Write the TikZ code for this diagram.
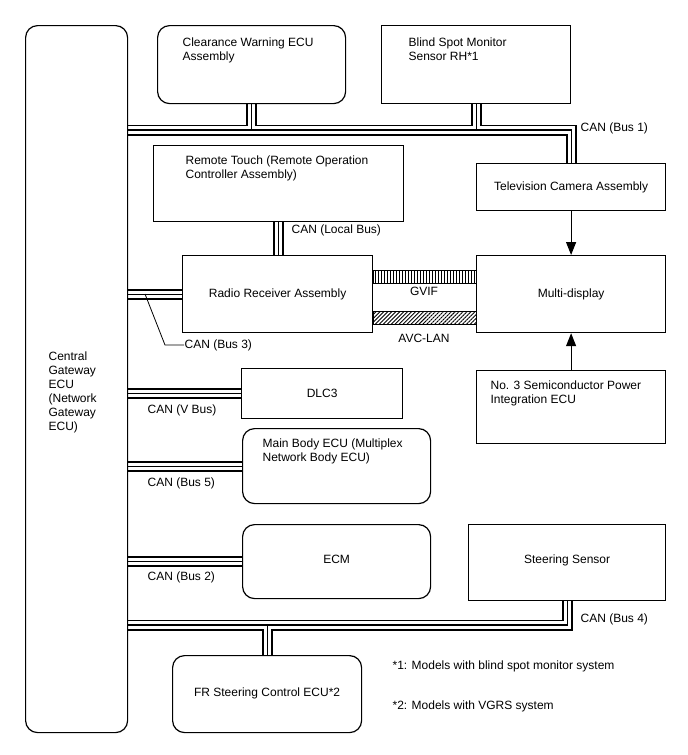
\documentclass[tikz,border=0pt]{standalone}
\usepackage{fontspec}
\setmainfont{Liberation Sans}
\usetikzlibrary{arrows.meta, positioning, backgrounds, patterns.meta}
\tikzset{
  every picture/.style={font=\fontsize{12}{14}\selectfont, line width=1.2pt},
  ecu/.style={draw, rounded corners=12pt, inner sep=0pt, anchor=north west},
  unitbox/.style={draw, inner sep=0pt, anchor=north west},
  txt/.style={align=left, anchor=north west, inner sep=0pt},
  lbl/.style={anchor=west, inner sep=0pt},
  sig/.style={-{Triangle[length=13pt, width=10pt]}},
}
% CAN wire: outer pair of lines with a centre line
\newcommand\canwire[1]{%
  \draw[line width=11pt] #1;
  \draw[white, line width=7.2pt] #1;
  \draw[line width=1.1pt] #1;}
\begin{document}
\begin{tikzpicture}[x=1pt, y=-1pt]
  \useasboundingbox (0,0) rectangle (688,755);
  % gateway
  \node[ecu, minimum width=102pt, minimum height=707pt] (cgw) at (25,25) {};
  \node[txt, below right=326pt and 23pt of cgw.north west] {Central\\Gateway\\ECU\\(Network\\Gateway\\ECU)};
  % top row
  \node[ecu, minimum width=188pt, minimum height=78pt] (cwe) at (157,25) {};
  \node[txt, below right=12pt and 25pt of cwe.north west] {Clearance Warning ECU\\Assembly};
  \node[unitbox, minimum width=189pt, minimum height=78pt] (bsm) at (381,25) {};
  \node[txt, below right=12pt and 27pt of bsm.north west] {Blind Spot Monitor\\Sensor RH*1};
  \node[unitbox, minimum width=189pt, minimum height=47pt] (tv) at (476,163) {Television Camera Assembly};
  % audio / display
  \node[unitbox, minimum width=250pt, minimum height=76pt] (rt) at (153,145) {};
  \node[txt, below right=10pt and 32pt of rt.north west] {Remote Touch (Remote Operation\\Controller Assembly)};
  \node[unitbox, minimum width=190pt, minimum height=77pt] (rr) at (182,255) {Radio Receiver Assembly};
  \node[unitbox, minimum width=189pt, minimum height=77pt] (md) at (476,255) {Multi-display};
  \node[unitbox, minimum width=189pt, minimum height=73pt] (sc) at (476,370) {};
  \node[txt, below right=10pt and 14pt of sc.north west] {No. 3 Semiconductor Power\\Integration ECU};
  % body side
  \node[unitbox, minimum width=161pt, minimum height=50pt] (dlc) at (241,368) {DLC3};
  \node[ecu, minimum width=188pt, minimum height=75pt] (mb) at (242,428) {};
  \node[txt, below right=10pt and 20pt of mb.north west] {Main Body ECU (Multiplex\\Network Body ECU)};
  \node[ecu, minimum width=188pt, minimum height=74pt] (ecm) at (242,524) {\raisebox{4pt}{ECM}};
  \node[unitbox, minimum width=197pt, minimum height=76pt] (ss) at (468,524) {\raisebox{6pt}{Steering Sensor}};
  \node[ecu, minimum width=189pt, minimum height=77pt] (fr) at (172,655) {\raisebox{3pt}{FR Steering Control ECU*2}};
  % bus levels
  \coordinate (bus1) at (300,130);
  \coordinate (bus4) at (300,625);
  \begin{scope}[on background layer]
    \canwire{(cgw.east |- bus1) -| (tv.north) (cwe.south) -- (cwe.south |- bus1) (bsm.south) -- (bsm.south |- bus1)}
    \canwire{(rt.south) -- (rt.south |- rr.north)}
    \canwire{(cgw.east |- rr.west) -- (rr.west)}
    \canwire{(cgw.east |- dlc.west) -- (dlc.west)}
    \canwire{(cgw.east |- mb.west) -- (mb.west)}
    \canwire{(cgw.east |- ecm.west) -- (ecm.west)}
    \canwire{(ss.south) |- (cgw.east |- bus4) (fr.north) -- (fr.north |- bus4)}
  \end{scope}
  % video / AVC-LAN links
  \coordinate (gv1) at (0,270);
  \coordinate (gv2) at (0,283);
  \coordinate (av1) at (0,311);
  \coordinate (av2) at (0,324);
  \draw[line width=1pt, pattern={Lines[angle=90, distance=3pt, line width=1pt]}] (rr.east |- gv1) rectangle (md.west |- gv2);
  \draw[line width=1pt, pattern={Lines[angle=45, distance=2.8pt, line width=0.9pt]}] (rr.east |- av1) rectangle (md.west |- av2);
  \node (gvif) at (424,291) {GVIF};
  \node (avc) at (424,338) {AVC-LAN};
  \draw[sig] (tv.south) -- (md.north);
  \draw[sig] (sc.north) -- (md.south);
  % bus names
  \node[lbl] (b1lbl) at (580,128) {CAN (Bus 1)};
  \node[lbl] (lblocal) at (291,230) {CAN (Local Bus)};
  \node[lbl] (b3lbl) at (184,345) {CAN (Bus 3)};
  \node[lbl] (vlbl) at (147,410) {CAN (V Bus)};
  \node[lbl] (b5lbl) at (147,483) {CAN (Bus 5)};
  \node[lbl] (b2lbl) at (147,577) {CAN (Bus 2)};
  \node[lbl] (b4lbl) at (580,619) {CAN (Bus 4)};
  \coordinate (b3tap) at (145,294);
  \draw[line width=0.8pt] (b3tap) -- ++(20,51) -- (b3lbl.west);
  % notes
  \node[lbl] (n1) at (392,666) {*1: Models with blind spot monitor system};
  \node[lbl] (n2) at (392,706) {*2: Models with VGRS system};
\end{tikzpicture}
\end{document}
